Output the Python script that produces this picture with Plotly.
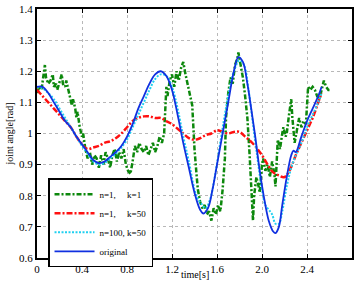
import plotly.graph_objects as go

# ---- data ----
green_x = [0.00,0.02,0.04,0.06,0.07,0.08,0.10,0.12,0.14,0.15,0.17,0.18,0.20,0.22,0.23,0.25,0.26,0.28,0.29,0.31,
           0.32,0.34,0.35,0.36,0.38,0.40,0.41,0.43,0.45,0.47,0.49,0.51,0.53,0.55,0.57,0.59,0.61,0.63,0.65,0.67,
           0.69,0.71,0.73,0.75,0.77,0.79,0.81,0.83,0.85,0.87,0.89,0.91,0.93,0.95,0.97,0.99,1.01,1.03,1.05,1.07,
           1.09,1.11,1.13,1.14,1.15,1.16,1.18,1.20,1.22,1.24,1.26,1.28,1.30,1.32,1.34,1.36,1.38,1.39,1.40,1.42,
           1.43,1.45,1.47,1.49,1.51,1.53,1.55,1.57,1.59,1.61,1.63,1.65,1.67,1.68,1.70,1.72,1.74,1.76,1.78,1.79,
           1.81,1.83,1.85,1.87,1.89,1.91,1.92,1.93,1.95,1.97,1.98,2.00,2.01,2.03,2.05,2.07,2.09,2.11,2.12,2.14,
           2.16,2.18,2.19,2.21,2.22,2.24,2.26,2.27,2.29,2.31,2.33,2.35,2.37,2.39,2.41,2.43,2.45,2.47,2.49,2.51,
           2.53,2.55,2.57,2.59,2.60]
green_y = [1.13,1.15,1.14,1.19,1.22,1.18,1.16,1.17,1.19,1.15,1.16,1.14,1.17,1.19,1.16,1.15,1.17,1.14,1.12,1.09,
           1.11,1.08,1.05,1.07,1.02,0.99,1.00,0.95,0.92,0.94,0.90,0.93,0.92,0.89,0.93,0.90,0.94,0.92,0.89,0.93,
           0.95,0.91,0.94,0.92,0.95,0.90,0.88,0.87,0.91,0.96,0.94,0.97,0.95,0.94,0.96,0.93,0.95,0.97,0.94,0.96,
           0.99,0.97,1.00,1.08,1.15,1.12,1.17,1.19,1.15,1.20,1.17,1.21,1.23,1.19,1.16,1.12,1.09,1.02,0.95,0.86,
           0.82,0.78,0.76,0.77,0.74,0.75,0.72,0.76,0.74,0.77,0.75,0.82,0.92,1.05,1.13,1.18,1.16,1.22,1.24,1.26,
           1.22,1.18,1.12,1.05,0.93,0.79,0.72,0.80,0.86,0.83,0.81,0.90,0.92,0.88,0.90,0.86,0.91,0.87,0.83,0.98,
           0.95,1.00,1.02,0.99,1.00,1.06,1.11,1.05,0.97,1.01,1.05,1.02,1.04,1.03,1.15,1.14,1.15,1.14,1.12,1.11,
           1.14,1.17,1.15,1.14,1.14]

red_x = [0.00,0.05,0.10,0.15,0.20,0.25,0.30,0.35,0.40,0.45,0.50,0.55,0.60,0.65,0.70,0.75,0.80,0.85,0.90,0.95,
         1.00,1.05,1.10,1.15,1.20,1.25,1.30,1.35,1.40,1.45,1.50,1.55,1.60,1.65,1.70,1.75,1.80,1.85,1.90,1.95,
         2.00,2.05,2.10,2.15,2.20,2.25,2.30,2.35,2.40,2.45,2.50,2.53]
red_y = [1.14,1.12,1.10,1.08,1.06,1.04,1.02,0.99,0.965,0.95,0.955,0.96,0.97,0.975,0.985,1.00,1.02,1.04,1.05,1.055,
         1.055,1.05,1.05,1.04,1.03,1.015,1.00,0.985,0.98,0.985,0.995,1.00,1.01,1.005,1.00,1.005,1.005,0.99,0.975,0.955,
         0.93,0.90,0.875,0.865,0.86,0.885,0.93,0.97,1.01,1.05,1.10,1.13]

cyan_x = [0.00,0.05,0.10,0.15,0.20,0.25,0.30,0.35,0.40,0.45,0.50,0.55,0.60,0.65,0.70,0.75,0.80,0.85,0.90,0.95,
          1.00,1.05,1.10,1.15,1.20,1.25,1.30,1.35,1.40,1.43,1.46,1.50,1.54,1.58,1.62,1.66,1.70,1.75,1.80,1.84,
          1.88,1.92,1.96,2.00,2.03,2.06,2.09,2.12,2.15,2.18,2.22,2.26,2.30,2.35,2.40,2.45,2.50,2.53]
cyan_y = [1.15,1.145,1.13,1.11,1.08,1.05,1.02,0.99,0.96,0.935,0.91,0.90,0.905,0.92,0.935,0.955,0.98,1.02,1.06,1.10,
          1.14,1.175,1.19,1.185,1.15,1.08,0.99,0.91,0.82,0.79,0.775,0.76,0.79,0.86,0.95,1.04,1.12,1.20,1.235,1.22,
          1.14,1.03,0.92,0.82,0.77,0.755,0.74,0.71,0.71,0.75,0.83,0.89,0.93,0.97,1.02,1.06,1.10,1.13]

blue_x = [0.00,0.05,0.10,0.15,0.20,0.25,0.30,0.35,0.40,0.45,0.50,0.55,0.60,0.65,0.70,0.75,0.80,0.85,0.90,0.95,
          1.00,1.05,1.10,1.15,1.20,1.25,1.30,1.35,1.40,1.45,1.48,1.52,1.56,1.60,1.65,1.70,1.75,1.79,1.83,1.87,
          1.90,1.94,1.98,2.02,2.06,2.10,2.12,2.15,2.18,2.22,2.26,2.28,2.30,2.35,2.40,2.45,2.50,2.53]
blue_y = [1.15,1.15,1.13,1.10,1.07,1.04,1.02,0.99,0.965,0.94,0.915,0.905,0.91,0.925,0.94,0.96,0.99,1.03,1.08,1.12,
          1.16,1.19,1.20,1.185,1.14,1.06,0.97,0.89,0.81,0.755,0.743,0.76,0.82,0.90,1.00,1.10,1.20,1.245,1.23,1.16,
          1.09,0.99,0.88,0.79,0.72,0.685,0.68,0.70,0.77,0.86,0.93,0.945,0.94,0.99,1.04,1.08,1.12,1.15]

series_names = ["n=1,\u00a0\u00a0\u00a0\u00a0\u00a0k=1", "n=1,\u00a0\u00a0\u00a0\u00a0\u00a0k=50",
                "n=100, k=50", "original"]

x_ticks = [0, 0.4, 0.8, 1.2, 1.6, 2.0, 2.4, 2.8]
x_tick_text = ["0", "0.4", "0.8", "1.2", "1.6", "2.0", "2.4", "2.8"]
y_ticks = [0.6, 0.7, 0.8, 0.9, 1.0, 1.1, 1.2, 1.3, 1.4]
y_tick_text = ["0.6", "0.7", "0.8", "0.9", "1", "1.1", "1.2", "1.3", "1.4"]

FONT = "Liberation Serif"

fig = go.Figure()
fig.add_trace(go.Scatter(x=green_x, y=green_y, mode="lines", name=series_names[0],
                         line=dict(color="#0c880c", width=2.5, dash="5px,2px,2px,2px")))
fig.add_trace(go.Scatter(x=red_x, y=red_y, mode="lines", name=series_names[1],
                         line=dict(color="#ff1010", width=2.5, dash="6px,2px,2px,2px", shape="spline")))
fig.add_trace(go.Scatter(x=cyan_x, y=cyan_y, mode="lines", name=series_names[2],
                         line=dict(color="#20d0f0", width=2, dash="2px,1.5px", shape="spline")))
fig.add_trace(go.Scatter(x=blue_x, y=blue_y, mode="lines", name=series_names[3],
                         line=dict(color="#1030e0", width=1.8, shape="spline")))

axis_common = dict(showline=True, linecolor="black", linewidth=2, mirror="ticks",
                   ticks="inside", ticklen=4, tickcolor="black", tickwidth=1,
                   showgrid=True, gridcolor="#b8b8b8", gridwidth=1, griddash="dot",
                   zeroline=False, automargin=False,
                   tickfont=dict(family=FONT, size=11, color="black"))

fig.update_xaxes(range=[0, 2.8], tickvals=x_ticks, ticktext=x_tick_text, **axis_common)
fig.update_yaxes(range=[0.6, 1.4], tickvals=y_ticks, ticktext=y_tick_text,
                 title=dict(text="joint angle[rad]", font=dict(family=FONT, size=10, color="black"), standoff=4),
                 **axis_common)

fig.add_annotation(text="time[s]", xref="paper", yref="paper", x=0.5, y=0,
                   xanchor="center", yanchor="top", yshift=-10, showarrow=False,
                   borderpad=0, font=dict(family=FONT, size=10, color="black"))

fig.update_layout(
    width=356, height=282,
    margin=dict(l=37, r=4, t=9, b=24),
    paper_bgcolor="white", plot_bgcolor="white",
    font=dict(family=FONT, color="black"),
    legend=dict(x=0.035, y=0.32, xanchor="left", yanchor="top",
                bgcolor="white", bordercolor="black", borderwidth=1.5,
                font=dict(family=FONT, size=9, color="black"),
                tracegroupgap=0, itemwidth=40),
)

fig.write_html("out.html")
